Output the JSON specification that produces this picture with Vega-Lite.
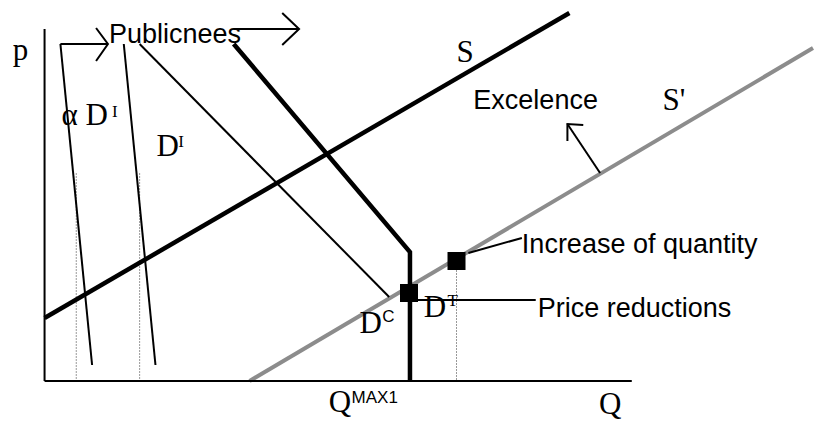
{
  "$schema": "https://vega.github.io/schema/vega-lite/v6.json",
  "width": 821,
  "height": 421,
  "autosize": {"type": "fit", "contains": "padding"},
  "padding": 0,
  "background": "white",
  "config": {"view": {"stroke": null}},
  "datasets": {
    "curves": [
      {"curve": "p axis", "ord": 1, "Q": 0, "P": 352},
      {"curve": "p axis", "ord": 2, "Q": 0, "P": 0},
      {"curve": "Q axis", "ord": 1, "Q": 0, "P": 0},
      {"curve": "Q axis", "ord": 2, "Q": 593, "P": 0},
      {"curve": "aDI", "ord": 1, "Q": 16, "P": 337},
      {"curve": "aDI", "ord": 2, "Q": 48, "P": 16},
      {"curve": "aDI shift", "ord": 1, "Q": 16, "P": 337},
      {"curve": "aDI shift", "ord": 2, "Q": 64, "P": 337},
      {"curve": "aDI shift head", "ord": 1, "Q": 52, "P": 353},
      {"curve": "aDI shift head", "ord": 2, "Q": 64, "P": 337},
      {"curve": "aDI shift head", "ord": 3, "Q": 52, "P": 320},
      {"curve": "DI", "ord": 1, "Q": 80, "P": 337},
      {"curve": "DI", "ord": 2, "Q": 112, "P": 16},
      {"curve": "DC", "ord": 1, "Q": 96, "P": 337},
      {"curve": "DC", "ord": 2, "Q": 348, "P": 84},
      {"curve": "Publicnees shift", "ord": 1, "Q": 191, "P": 352},
      {"curve": "Publicnees shift", "ord": 2, "Q": 257, "P": 352},
      {"curve": "Publicnees shift head", "ord": 1, "Q": 240, "P": 368},
      {"curve": "Publicnees shift head", "ord": 2, "Q": 257, "P": 352},
      {"curve": "Publicnees shift head", "ord": 3, "Q": 240, "P": 336},
      {"curve": "Excelence shift", "ord": 1, "Q": 561, "P": 208},
      {"curve": "Excelence shift", "ord": 2, "Q": 528, "P": 257},
      {"curve": "Excelence shift head", "ord": 1, "Q": 544, "P": 256},
      {"curve": "Excelence shift head", "ord": 2, "Q": 528, "P": 257},
      {"curve": "Excelence shift head", "ord": 3, "Q": 528, "P": 240},
      {"curve": "Price reductions pointer", "ord": 1, "Q": 377, "P": 81},
      {"curve": "Price reductions pointer", "ord": 2, "Q": 496, "P": 81},
      {"curve": "Increase pointer", "ord": 1, "Q": 428, "P": 128},
      {"curve": "Increase pointer", "ord": 2, "Q": 482, "P": 143},
      {"curve": "S", "ord": 1, "Q": 0, "P": 63},
      {"curve": "S", "ord": 2, "Q": 530, "P": 368},
      {"curve": "DT", "ord": 1, "Q": 191, "P": 337},
      {"curve": "DT", "ord": 2, "Q": 369, "P": 129},
      {"curve": "DT", "ord": 3, "Q": 369, "P": 0},
      {"curve": "S'", "ord": 1, "Q": 207, "P": 0},
      {"curve": "S'", "ord": 2, "Q": 776, "P": 333},
      {"curve": "guide aDI", "ord": 1, "Q": 32, "P": 208},
      {"curve": "guide aDI", "ord": 2, "Q": 32, "P": 0},
      {"curve": "guide DI", "ord": 1, "Q": 96, "P": 208},
      {"curve": "guide DI", "ord": 2, "Q": 96, "P": 0},
      {"curve": "guide increase", "ord": 1, "Q": 416, "P": 111},
      {"curve": "guide increase", "ord": 2, "Q": 416, "P": 0}
    ],
    "points": [
      {"point": "price reduction", "Q": 368, "P": 88},
      {"point": "quantity increase", "Q": 416, "P": 120}
    ],
    "labels": [
      {"role": "symbol", "text": "p", "Q": -32, "P": 321},
      {"role": "symbol", "text": "α D", "Q": 17, "P": 256},
      {"role": "symbol", "text": "D", "Q": 113, "P": 225},
      {"role": "symbol", "text": "S", "Q": 416, "P": 319},
      {"role": "symbol", "text": "S'", "Q": 624, "P": 271},
      {"role": "symbol", "text": "D", "Q": 318, "P": 48},
      {"role": "symbol", "text": "D", "Q": 383, "P": 64},
      {"role": "symbol", "text": "Q", "Q": 287, "P": -31},
      {"role": "symbol", "text": "Q", "Q": 560, "P": -33},
      {"role": "symbol index", "text": "I", "Q": 68, "P": 264},
      {"role": "symbol index", "text": "I", "Q": 135, "P": 234},
      {"role": "symbol index", "text": "T", "Q": 407, "P": 75},
      {"role": "index", "text": "C", "Q": 341, "P": 59},
      {"role": "index", "text": "MAX1", "Q": 310, "P": -22},
      {"role": "note", "text": "Publicnees", "Q": 65, "P": 338},
      {"role": "note", "text": "Excelence", "Q": 433, "P": 272},
      {"role": "note", "text": "Increase of quantity", "Q": 482, "P": 128},
      {"role": "note", "text": "Price reductions", "Q": 498, "P": 64}
    ]
  },
  "encoding": {
    "x": {"field": "Q", "type": "quantitative", "scale": {"domain": [-45, 776], "nice": false, "zero": false}, "axis": null},
    "y": {"field": "P", "type": "quantitative", "scale": {"domain": [-40, 381], "nice": false, "zero": false}, "axis": null}
  },
  "layer": [
    {
      "data": {"name": "curves"},
      "transform": [{"filter": {"field": "curve", "oneOf": ["guide aDI", "guide DI", "guide increase"]}}],
      "mark": {"type": "line", "color": "#999999", "strokeWidth": 1, "strokeDash": [2, 1]},
      "encoding": {"detail": {"field": "curve"}, "order": {"field": "ord"}}
    },
    {
      "data": {"name": "curves"},
      "transform": [{"filter": {"field": "curve", "oneOf": ["S'"]}}],
      "mark": {"type": "line", "color": "#8c8c8c", "strokeWidth": 4},
      "encoding": {"detail": {"field": "curve"}, "order": {"field": "ord"}}
    },
    {
      "data": {"name": "curves"},
      "transform": [{"filter": {"field": "curve", "oneOf": ["p axis", "Q axis", "aDI", "aDI shift", "aDI shift head", "DI", "DC", "Publicnees shift", "Publicnees shift head", "Excelence shift", "Excelence shift head", "Price reductions pointer", "Increase pointer"]}}],
      "mark": {"type": "line", "color": "black", "strokeWidth": 2},
      "encoding": {"detail": {"field": "curve"}, "order": {"field": "ord"}}
    },
    {
      "data": {"name": "curves"},
      "transform": [{"filter": {"field": "curve", "oneOf": ["S", "DT"]}}],
      "mark": {"type": "line", "color": "black", "strokeWidth": 4.5, "strokeJoin": "miter"},
      "encoding": {"detail": {"field": "curve"}, "order": {"field": "ord"}}
    },
    {
      "data": {"name": "points"},
      "mark": {"type": "point", "shape": "square", "filled": true, "color": "black", "opacity": 1, "size": 324}
    },
    {
      "data": {"name": "labels"},
      "transform": [{"filter": {"field": "role", "equal": "symbol"}}],
      "mark": {"type": "text", "font": "Liberation Serif", "fontSize": 31, "align": "left", "baseline": "alphabetic", "color": "black"},
      "encoding": {"text": {"field": "text"}}
    },
    {
      "data": {"name": "labels"},
      "transform": [{"filter": {"field": "role", "equal": "symbol index"}}],
      "mark": {"type": "text", "font": "Liberation Serif", "fontSize": 17, "align": "left", "baseline": "alphabetic", "color": "black"},
      "encoding": {"text": {"field": "text"}}
    },
    {
      "data": {"name": "labels"},
      "transform": [{"filter": {"field": "role", "equal": "index"}}],
      "mark": {"type": "text", "font": "Liberation Sans", "fontSize": 17, "align": "left", "baseline": "alphabetic", "color": "black"},
      "encoding": {"text": {"field": "text"}}
    },
    {
      "data": {"name": "labels"},
      "transform": [{"filter": {"field": "role", "equal": "note"}}],
      "mark": {"type": "text", "font": "Liberation Sans", "fontSize": 27, "align": "left", "baseline": "alphabetic", "color": "black"},
      "encoding": {"text": {"field": "text"}}
    }
  ]
}
